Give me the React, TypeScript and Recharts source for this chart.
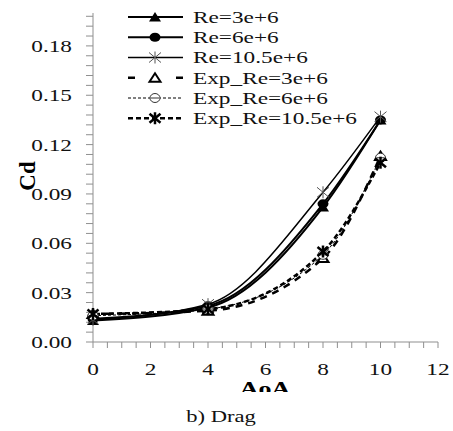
import React from "react";
import { LineChart, Line, XAxis, YAxis } from "recharts";

// angle of attack and drag coefficients
const aoa = [0, 4, 8, 10];
const re3 = [0.013, 0.021, 0.082, 0.135];
const re6 = [0.014, 0.022, 0.084, 0.135];
const re105 = [0.0135, 0.023, 0.091, 0.137];
const exp3 = [0.017, 0.019, 0.051, 0.113];
const exp6 = [0.016, 0.02, 0.053, 0.112];
const exp105 = [0.017, 0.02, 0.055, 0.109];

const legendLabels = [
    "Re=3e+6",
    "Re=6e+6",
    "Re=10.5e+6",
    "Exp_Re=3e+6",
    "Exp_Re=6e+6",
    "Exp_Re=10.5e+6",
];

const yMajor = [0, 0.03, 0.06, 0.09, 0.12, 0.15, 0.18];
const yMinorStep = 0.006;
const xMajor = [0, 2, 4, 6, 8, 10, 12];
const xMinorStep = 0.5;

const yTicks = Array.from({ length: 34 }, (_, i) => +(i * yMinorStep).toFixed(3));
const xTicks = Array.from({ length: 25 }, (_, i) => i * xMinorStep);

const data = aoa.map((a, i) => ({
    aoa: a,
    re3: re3[i],
    re6: re6[i],
    re105: re105[i],
    exp3: exp3[i],
    exp6: exp6[i],
    exp105: exp105[i],
}));

const FONT = "Liberation Serif";
const SX = 1.37; // the original figure is stretched sideways
const AXIS = "#8f8f8f";
const txt = { fontFamily: FONT } as React.CSSProperties;

type MarkerKind = "triFill" | "dotFill" | "star" | "triOpen" | "circleBar" | "starBold";

function Marker({ kind, cx, cy }: { kind: MarkerKind; cx: number; cy: number }) {
    switch (kind) {
        case "triFill":
            return <polygon points={`${cx - 6},${cy + 4.5} ${cx + 6},${cy + 4.5} ${cx},${cy - 5}`} fill="#000" />;
        case "dotFill":
            return <ellipse cx={cx} cy={cy} rx={5.5} ry={4.5} fill="#000" />;
        case "star":
            return (
                <g stroke="#555" strokeWidth={1}>
                    <line x1={cx - 6} y1={cy - 5} x2={cx + 6} y2={cy + 5} />
                    <line x1={cx - 6} y1={cy + 5} x2={cx + 6} y2={cy - 5} />
                    <line x1={cx} y1={cy - 6} x2={cx} y2={cy + 6} />
                </g>
            );
        case "triOpen":
            return (
                <polygon
                    points={`${cx - 5.5},${cy + 4} ${cx + 5.5},${cy + 4} ${cx},${cy - 4.5}`}
                    fill="#fff"
                    stroke="#000"
                    strokeWidth={2}
                />
            );
        case "circleBar":
            return (
                <g stroke="#333" strokeWidth={1}>
                    <ellipse cx={cx} cy={cy} rx={5} ry={4.5} fill="#fff" />
                    <line x1={cx - 4} y1={cy} x2={cx + 4} y2={cy} />
                </g>
            );
        case "starBold":
            return (
                <g stroke="#000" strokeWidth={2.5}>
                    <line x1={cx - 5.5} y1={cy - 4.5} x2={cx + 5.5} y2={cy + 4.5} />
                    <line x1={cx - 5.5} y1={cy + 4.5} x2={cx + 5.5} y2={cy - 4.5} />
                    <line x1={cx} y1={cy - 6} x2={cx} y2={cy + 6} />
                </g>
            );
    }
    return null;
}

const series = [
    { key: "re3", marker: "triFill" as MarkerKind, width: 2, dash: undefined as string | undefined },
    { key: "re6", marker: "dotFill" as MarkerKind, width: 2, dash: undefined },
    { key: "re105", marker: "star" as MarkerKind, width: 1.5, dash: undefined },
    { key: "exp3", marker: "triOpen" as MarkerKind, width: 2.5, dash: "7 6" },
    { key: "exp6", marker: "circleBar" as MarkerKind, width: 1, dash: "3 2" },
    { key: "exp105", marker: "starBold" as MarkerKind, width: 2.5, dash: "5 3" },
];

const YTick = ({ y, payload }: any) => {
    const v = payload.value;
    if (!yMajor.some((m) => Math.abs(m - v) < 1e-6)) return <g />;
    return (
        <text
            transform={`translate(72,${y}) scale(${SX},1)`}
            textAnchor="end"
            dy="0.35em"
            style={txt}
            fontSize={17}
            fill="#111"
        >
            {v.toFixed(2)}
        </text>
    );
};

const XTick = ({ x, payload }: any) => {
    const v = payload.value;
    if (!xMajor.includes(v)) return <g />;
    return (
        <text
            transform={`translate(${x},369) scale(${SX},1)`}
            textAnchor="middle"
            dy="0.35em"
            style={txt}
            fontSize={17}
            fill="#111"
        >
            {v}
        </text>
    );
};

export default function App() {
    const rowY = (i: number) => 17 + i * 20.25;
    return (
        <div style={{ position: "relative", width: 453, height: 431, background: "#fff" }}>
            <style>{"html,body{margin:0;padding:0;overflow:hidden}"}</style>
            <LineChart width={453} height={431} data={data} margin={{ top: 13, right: 15, left: 0, bottom: 0 }}>
                <XAxis
                    dataKey="aoa"
                    type="number"
                    domain={[0, 12]}
                    ticks={xTicks}
                    interval={0}
                    height={89}
                    tick={<XTick />}
                    tickSize={6}
                    axisLine={{ stroke: AXIS }}
                    tickLine={{ stroke: AXIS }}
                />
                <YAxis
                    type="number"
                    domain={[0, 0.2]}
                    ticks={yTicks}
                    interval={0}
                    width={93}
                    tick={<YTick />}
                    tickSize={7}
                    axisLine={{ stroke: AXIS }}
                    tickLine={{ stroke: AXIS }}
                />
                {series.map((s) => (
                    <Line
                        key={s.key}
                        dataKey={s.key}
                        type="monotone"
                        stroke="#000"
                        strokeWidth={s.width}
                        strokeDasharray={s.dash}
                        isAnimationActive={false}
                        dot={(p: any) => (
                            <g key={`${s.key}-${p.index}`}>
                                <Marker kind={s.marker} cx={p.cx} cy={p.cy} />
                            </g>
                        )}
                        activeDot={false}
                    />
                ))}
            </LineChart>
            <svg
                width={453}
                height={431}
                style={{ position: "absolute", left: 0, top: 0, pointerEvents: "none" }}
            >
                <defs>
                    <clipPath id="aoaClip">
                        <rect x={0} y={0} width={453} height={392} />
                    </clipPath>
                </defs>
                {legendLabels.map((label, i) => {
                    const s = series[i];
                    const y = rowY(i);
                    return (
                        <g key={label}>
                            {s.marker === "triOpen" ? (
                                <g stroke="#000" strokeWidth={s.width}>
                                    <line x1={128} y1={y} x2={135} y2={y} />
                                    <line x1={176} y1={y} x2={183} y2={y} />
                                </g>
                            ) : (
                                <line
                                    x1={128}
                                    y1={y}
                                    x2={183}
                                    y2={y}
                                    stroke="#000"
                                    strokeWidth={s.width}
                                    strokeDasharray={s.dash}
                                />
                            )}
                            <Marker kind={s.marker} cx={155} cy={y} />
                            <text
                                transform={`translate(193,${y}) scale(${SX},1)`}
                                dy="0.35em"
                                style={txt}
                                fontSize={17}
                                fill="#111"
                            >
                                {label}
                            </text>
                        </g>
                    );
                })}
                <text
                    transform="translate(27,176) rotate(-90)"
                    textAnchor="middle"
                    dy="0.35em"
                    style={txt}
                    fontSize={23}
                    fontWeight="bold"
                    fill="#000"
                >
                    Cd
                </text>
                <g clipPath="url(#aoaClip)">
                    <text
                        transform={`translate(265,388) scale(${SX},1)`}
                        textAnchor="middle"
                        dy="0.35em"
                        style={txt}
                        fontSize={19}
                        fontWeight="bold"
                        fill="#000"
                    >
                        AoA
                    </text>
                </g>
                <text
                    transform={`translate(221,416) scale(${SX},1)`}
                    textAnchor="middle"
                    dy="0.35em"
                    style={txt}
                    fontSize={16.5}
                    fill="#111"
                >
                    b) Drag
                </text>
            </svg>
        </div>
    );
}
